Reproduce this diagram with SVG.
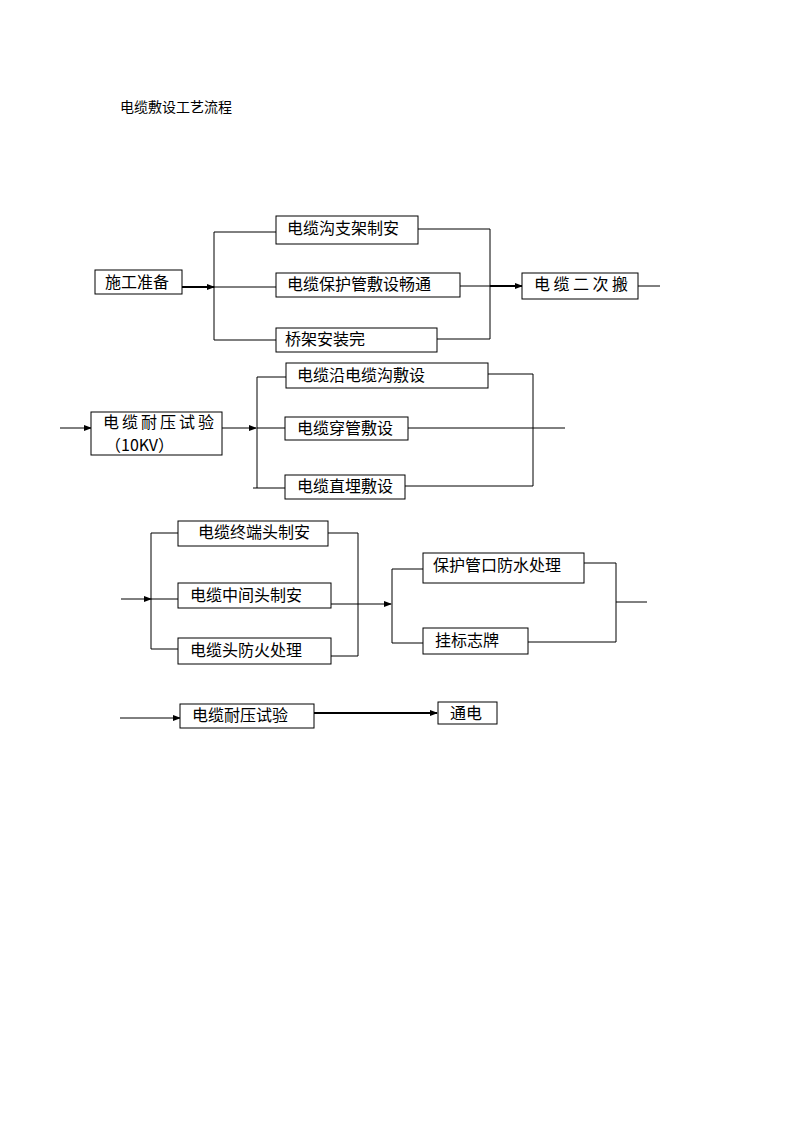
<svg xmlns="http://www.w3.org/2000/svg" width="794" height="1123" viewBox="0 0 794 1123">
<style>
.b{fill:#fff;stroke:#000;stroke-width:1}
.t{font-family:"Noto Sans CJK SC","Liberation Sans",sans-serif;font-size:16px;fill:#000}
.ttl{font-family:"Noto Sans CJK SC","Liberation Sans",sans-serif;font-size:14px;fill:#000}
.l{fill:none;stroke:#000;stroke-width:1}
.k{fill:none;stroke:#000;stroke-width:2}
</style>
<defs>
<marker id="a" markerWidth="8" markerHeight="6" refX="7" refY="3" orient="auto" markerUnits="userSpaceOnUse">
<path d="M0,0 L8,3 L0,6 Z" fill="#000"/>
</marker>
</defs>
<text class="ttl" x="120" y="112">电缆敷设工艺流程</text>
<g id="connectors">
<!-- section 1 -->
<line class="k" x1="182" y1="287" x2="214" y2="287" marker-end="url(#a)"/>
<path class="l" d="M276,232 H214 V340 H276"/>
<line class="l" x1="214" y1="287" x2="276" y2="287"/>
<path class="l" d="M418,229 H490 V339 H437"/>
<line class="l" x1="460" y1="286" x2="490" y2="286"/>
<line class="k" x1="490" y1="286" x2="522" y2="286" marker-end="url(#a)"/>
<line class="l" x1="638" y1="286" x2="660" y2="286"/>
<!-- section 2 -->
<line class="l" x1="60" y1="428" x2="91" y2="428" marker-end="url(#a)"/>
<line class="l" x1="222" y1="428" x2="256" y2="428" marker-end="url(#a)"/>
<path class="l" d="M286,377 H257 V488"/>
<line class="l" x1="257" y1="428" x2="285" y2="428"/>
<line class="l" x1="253" y1="488" x2="285" y2="488"/>
<path class="l" d="M488,374 H533 V486 H405"/>
<line class="l" x1="408" y1="428" x2="565" y2="428"/>
<!-- section 3 -->
<line class="l" x1="121" y1="599" x2="151" y2="599" marker-end="url(#a)"/>
<path class="l" d="M178,533 H151 V649 H178"/>
<line class="l" x1="151" y1="599" x2="178" y2="599"/>
<path class="l" d="M328,533 H358 V656 H331"/>
<line class="l" x1="331" y1="604" x2="391" y2="604" marker-end="url(#a)"/>
<path class="l" d="M423,569 H392 V643 H423"/>
<path class="l" d="M584,563 H616 V642 H528"/>
<line class="l" x1="616" y1="602" x2="647" y2="602"/>
<!-- section 4 -->
<line class="l" x1="120" y1="718" x2="180" y2="718" marker-end="url(#a)"/>
<line class="k" x1="314" y1="713" x2="437" y2="713" marker-end="url(#a)"/>
</g>
<g id="n1"><rect class="b" x="95" y="270" width="87" height="24"/><text class="t" x="105" y="288">施工准备</text></g>
<g id="n2"><rect class="b" x="276" y="216" width="142" height="28"/><text class="t" x="287" y="234">电缆沟支架制安</text></g>
<g id="n3"><rect class="b" x="276" y="273" width="184" height="24"/><text class="t" x="287" y="290">电缆保护管敷设畅通</text></g>
<g id="n4"><rect class="b" x="276" y="328" width="161" height="24"/><text class="t" x="285" y="345">桥架安装完</text></g>
<g id="n5"><rect class="b" x="522" y="273" width="116" height="26"/><text class="t" x="534" y="290" letter-spacing="3.5">电缆二次搬</text></g>
<g id="n6"><rect class="b" x="91" y="412" width="131" height="43"/><text class="t" x="103" y="428" font-size="15" letter-spacing="3">电缆耐压试验</text><text class="t" x="105" y="451" font-size="15">（10KV）</text></g>
<g id="n7"><rect class="b" x="286" y="363" width="202" height="25"/><text class="t" x="297" y="381">电缆沿电缆沟敷设</text></g>
<g id="n8"><rect class="b" x="285" y="417" width="123" height="23"/><text class="t" x="297" y="434">电缆穿管敷设</text></g>
<g id="n9"><rect class="b" x="285" y="475" width="120" height="24"/><text class="t" x="297" y="492">电缆直埋敷设</text></g>
<g id="n10"><rect class="b" x="178" y="521" width="150" height="25"/><text class="t" x="198" y="538">电缆终端头制安</text></g>
<g id="n11"><rect class="b" x="178" y="583" width="153" height="25"/><text class="t" x="190" y="601">电缆中间头制安</text></g>
<g id="n12"><rect class="b" x="178" y="638" width="153" height="26"/><text class="t" x="190" y="656">电缆头防火处理</text></g>
<g id="n13"><rect class="b" x="423" y="553" width="161" height="30"/><text class="t" x="433" y="571">保护管口防水处理</text></g>
<g id="n14"><rect class="b" x="423" y="628" width="105" height="26"/><text class="t" x="435" y="646">挂标志牌</text></g>
<g id="n15"><rect class="b" x="180" y="704" width="134" height="24"/><text class="t" x="192" y="721">电缆耐压试验</text></g>
<g id="n16"><rect class="b" x="438" y="702" width="59" height="22"/><text class="t" x="450" y="719">通电</text></g>
</svg>
